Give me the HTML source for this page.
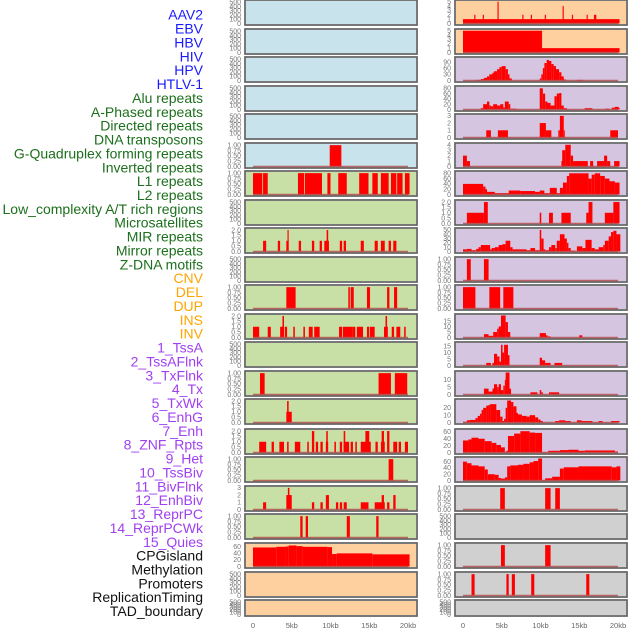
<!DOCTYPE html>
<html><head><meta charset="utf-8"><style>
html,body{margin:0;padding:0;background:#fff;width:630px;height:630px;overflow:hidden}
svg{display:block;font-family:"Liberation Sans",sans-serif}
</style></head><body>
<svg id="chart" width="630" height="630" viewBox="0 0 630 630" xmlns="http://www.w3.org/2000/svg">
<g id="labels"></g>
<g id="panels"></g>
<g id="xaxes"></g>
</svg>
<script>
// ---- track labels ----
const labelNames = ["AAV2","EBV","HBV","HIV","HPV","HTLV-1","Alu repeats","A-Phased repeats","Directed repeats","DNA transposons","G-Quadruplex forming repeats","Inverted repeats","L1 repeats","L2 repeats","Low_complexity A/T rich regions","Microsatellites","MIR repeats","Mirror repeats","Z-DNA motifs","CNV","DEL","DUP","INS","INV","1_TssA","2_TssAFlnk","3_TxFlnk","4_Tx","5_TxWk","6_EnhG","7_Enh","8_ZNF_Rpts","9_Het","10_TssBiv","11_BivFlnk","12_EnhBiv","13_ReprPC","14_ReprPCWk","15_Quies","CPGisland","Methylation","Promoters","ReplicationTiming","TAD_boundary"];
const labelGroups = [6,13,5,15,5];
const xTickLabels = ["0","5kb","10kb","15kb","20kb"];
const xTickValues = [0,5,10,15,20];

// ---- data: discrete bars [startKb, endKb, value] ----
const L6 = [[9.9,11.4,1]];
const L7 = [[0,1.2,1],[1.3,1.9,1],[5.8,6.6,1],[6.7,8.9,1],[9.6,10.0,1],[11.0,12.1,1],[13.7,14.9,1],[15.4,16.1,1],[16.5,17.5,1],[17.8,18.5,1],[18.6,19.3,1],[19.6,20.2,1]];
const L9 = [[1.3,1.7,1],[3.2,3.5,1],[4.3,4.6,1],[4.45,4.6,2],[5.9,6.2,1],[7.6,7.9,1],[8.6,8.9,1],[9.2,9.8,1],[9.5,9.7,2],[11.2,11.5,1],[11.7,12.0,1],[13.9,14.3,1],[15.7,16.1,1],[16.5,17.0,1],[17.5,17.8,1],[18.1,18.5,1]];
const L11 = [[4.3,5.5,1],[12.3,12.5,1],[12.6,13.0,1],[14.7,15.1,1],[17.3,17.6,1],[18.2,18.6,1]];
const L12 = [[0,0.8,1],[1.9,2.3,1],[3.5,4.0,1],[3.8,4.0,2],[4.1,4.4,1],[5.2,5.4,1],[6.5,6.7,1],[7.2,7.7,1],[7.9,8.6,1],[11.1,11.5,1],[11.6,12.8,1],[12.8,13.2,1],[13.4,14.2,1],[14.7,15.0,1],[15.1,15.7,1],[16.9,17.4,1],[17.1,17.3,2],[17.9,18.2,1],[18.5,19.0,1],[19.5,19.7,1]];
const L14 = [[0.9,1.5,1],[16.2,17.8,1],[18.3,19.9,1]];
const L15 = [[4.3,5.0,1],[4.4,4.6,2]];
const L16 = [[0.8,1.7,1],[2.4,2.7,1],[3.4,4.0,1],[4.4,4.6,1],[5.4,6.1,1],[7.0,7.2,1],[7.6,7.9,2],[8.1,8.4,1],[8.7,9.0,1],[9.4,9.7,1],[9.45,9.65,2],[10.5,10.7,1],[11.2,11.5,1],[11.7,12.4,1],[11.7,11.9,2],[12.6,12.9,1],[13.2,13.4,1],[13.9,15.2,1],[14.5,15.0,2],[15.8,16.1,1],[16.5,17.0,1],[16.6,16.9,2],[17.3,17.6,2],[18.1,18.6,1],[18.8,19.1,1],[19.6,20.0,1]];
const L17 = [[17.5,18.1,1]];
const L18 = [[1.3,1.7,1],[4.3,5.0,2],[4.5,4.7,3],[7.6,7.9,1],[8.7,9.0,1],[9.4,9.8,2],[10.7,11.0,1],[11.2,11.5,1],[11.7,12.1,1],[13.9,14.9,1],[15.7,17.0,1],[16.6,16.9,2],[17.3,17.6,1],[18.1,18.4,2]];
const L19 = [[6.1,6.4,1],[6.8,7.1,1],[12.1,12.5,1],[15.9,16.2,1]];
const R1 = [[0,20.2,1],[1.45,1.6,2],[2.55,2.7,2],[4.45,4.6,5],[7.65,7.8,2],[8.75,8.9,2],[10.55,10.7,2],[12.85,13.0,4],[14.05,14.2,2],[15.95,16.1,2],[16.9,17.2,2]];
const R2 = [[0,10.2,5],[10.2,20.2,1]];
const R5 = [[3.0,3.6,1],[4.5,5.8,1],[9.9,10.7,2],[10.7,11.4,1],[12.3,12.5,1],[12.5,13.0,3],[13.0,13.1,1],[19.0,20.0,1]];
const R6 = [[0,0.5,2],[0.5,0.9,1],[12.7,12.8,1],[12.8,13.2,3],[13.2,13.9,4],[13.9,14.2,2],[14.2,16.1,1],[16.4,16.8,1],[17.3,18.2,1],[18.2,18.6,2],[18.6,19.0,1],[19.5,20.2,1]];
const R10 = [[0.5,1.0,1],[2.7,3.3,1]];
const R11 = [[0,1.6,1],[3.4,4.8,1],[5.2,6.5,1]];
const R18 = [[4.8,5.4,1],[10.6,11.3,1],[11.9,12.5,1]];
const R20 = [[4.9,5.4,1],[10.6,11.3,1]];
const R21 = [[1.1,1.5,1],[5.6,5.9,1],[6.3,6.7,1],[8.8,9.2,1],[15.9,16.3,1]];
// ---- data: step profiles [startKb, value] (each step ends at next start) ----
const L20 = [[0,58],[3.0,60],[4.2,61],[4.6,64],[5.6,62],[6.4,60],[9.6,59],[10.2,38],[10.8,40],[15.4,37],[20.2,0]];
const R3 = [[1.7,3],[2.3,7],[2.7,13],[3.1,20],[3.4,30],[3.8,38],[4.0,45],[4.4,55],[4.7,65],[5.0,70],[5.5,55],[5.8,30],[6.0,10],[6.3,0],[9.9,10],[10.1,30],[10.3,60],[10.5,85],[10.8,100],[11.1,95],[11.4,80],[11.7,70],[12.0,55],[12.4,40],[12.7,20],[13.0,5],[13.3,0],[14.7,3],[15.5,0]];
const R4 = [[2.3,5],[2.6,20],[3.1,30],[3.4,15],[3.6,12],[3.9,20],[4.4,15],[4.8,20],[5.2,8],[5.4,30],[5.9,20],[6.1,3],[6.9,0],[9.9,80],[10.3,60],[10.6,30],[10.9,25],[11.3,15],[11.8,50],[12.1,60],[12.4,62],[12.7,15],[13.0,5],[13.4,0],[15.7,5],[16.7,0],[18.3,3],[18.9,0],[19.2,7],[19.6,10],[20.1,5],[20.2,0]];
const R7 = [[0,40],[2.6,30],[2.9,20],[3.1,10],[4.1,5],[5.9,15],[7.4,13],[9.3,10],[9.9,15],[10.5,5],[11.2,25],[12.1,5],[12.5,25],[12.9,45],[13.4,70],[13.7,80],[16.2,60],[16.6,75],[17.0,80],[17.7,70],[18.3,60],[18.9,50],[19.6,45],[20.2,0]];
const R8 = [[0.5,1],[2.7,2],[3.2,0],[9.9,1],[10.1,0],[11.1,1],[11.6,0],[12.7,1],[13.9,0],[15.9,1],[16.2,2],[16.7,0],[18.3,1],[19.4,2],[20.2,0]];
const R9 = [[0,5],[0.5,6],[1.1,3],[1.7,6],[2.0,10],[2.3,15],[3.5,5],[3.7,8],[4.1,10],[4.6,15],[5.1,17],[5.5,25],[6.1,10],[6.4,5],[8.2,3],[8.7,8],[9.3,3],[9.9,50],[10.1,30],[10.4,5],[10.6,3],[11.1,10],[11.4,15],[11.9,8],[12.1,25],[12.5,40],[13.1,30],[13.4,20],[13.6,8],[13.9,2],[14.5,0],[14.7,12],[15.4,8],[15.8,27],[16.6,8],[17.0,5],[17.5,10],[18.1,15],[18.3,25],[18.8,35],[19.1,45],[19.4,48],[19.8,40],[20.3,0]];
const R12 = [[2.7,3],[3.3,1.5],[3.9,5],[4.4,8],[4.6,10],[4.9,20],[5.5,14],[5.8,5],[6.1,0],[9.9,4],[10.7,2],[10.9,1],[11.3,0],[15.0,2],[15.4,0]];
const R13 = [[3.0,2],[3.6,0],[3.8,2],[4.0,9],[4.4,7],[4.7,3],[4.9,16],[5.1,10],[5.3,16],[5.8,8],[6.0,0],[9.9,6],[10.2,4],[10.6,2],[11.3,0],[11.8,2],[12.8,0]];
const R14 = [[2.7,4],[3.3,2],[3.8,4],[4.0,7],[4.4,5],[4.6,7],[4.9,3],[5.2,6],[5.4,10],[5.5,15],[6.0,4],[6.2,0],[8.7,1.5],[9.6,0],[9.9,3],[10.1,1.5],[10.3,0],[11.1,1.5],[12.4,0]];
const R15 = [[0,1],[0.5,3],[0.9,3.5],[1.6,6],[1.9,9],[2.2,12],[2.4,17],[2.6,20],[3.0,23],[3.3,24],[3.5,25],[4.3,17],[4.8,8],[5.1,2],[5.3,5],[5.5,20],[5.7,30],[6.2,28],[6.5,22],[6.9,13],[7.1,11],[7.6,9],[8.2,8],[8.6,10],[9.3,7],[9.7,4],[10.0,2],[10.3,0],[11.9,2],[12.4,3],[13.2,2],[13.9,0],[14.7,3],[15.3,2],[16.7,0],[17.5,2],[18.0,0],[19.1,2],[20.2,0]];
const R16 = [[0,35],[0.7,38],[1.1,43],[2.0,40],[2.8,33],[3.7,28],[4.3,22],[4.9,15],[5.4,2],[5.6,5],[5.8,48],[6.6,55],[7.4,62],[8.6,58],[9.3,57],[10.2,1],[11.0,5],[12.5,7],[13.6,8],[14.9,5],[15.7,6],[19.6,3],[20.0,0]];
const R17 = [[0,60],[0.5,55],[1.1,48],[2.0,45],[2.8,35],[3.2,20],[4.1,18],[4.6,8],[4.9,6],[5.4,10],[5.7,45],[6.1,48],[7.1,50],[7.8,53],[8.6,58],[9.1,62],[9.7,70],[10.2,1],[10.6,7],[11.5,12],[12.5,38],[13.0,42],[14.9,45],[19.2,42],[19.8,45],[20.3,0]];
const EMPTY = [];

// ---- layout ----
const rowTops = [0,29,57,86,114,143,171,200,228,257,285,314,342,371,399,429,457,486,514,543,572,600];
const colX = [245,455];
const panelW = 172;
const kbPx = 7.75;
const BG = {blue:"#c8e3eb",green:"#c8e0a5",orange:"#ffd09f",purple:"#d5c5e1",gray:"#d0d0d0"};
const T500 = ["0","100","200","300","400","500"], T1 = ["0.00","0.25","0.50","0.75","1.00"], T2 = ["0.0","0.5","1.0","1.5","2.0"];
const panels = [
 {c:0,r:0,bg:"blue",d:EMPTY,ym:520,t:T500},{c:0,r:1,bg:"blue",d:EMPTY,ym:520,t:T500},{c:0,r:2,bg:"blue",d:EMPTY,ym:520,t:T500},
 {c:0,r:3,bg:"blue",d:EMPTY,ym:520,t:T500},{c:0,r:4,bg:"blue",d:EMPTY,ym:520,t:T500},{c:0,r:5,bg:"blue",d:L6,ym:1.03,t:T1},
 {c:0,r:6,bg:"green",d:L7,ym:1.03,t:T1},{c:0,r:7,bg:"green",d:EMPTY,ym:520,t:T500},{c:0,r:8,bg:"green",d:L9,ym:2.05,t:T2},
 {c:0,r:9,bg:"green",d:EMPTY,ym:520,t:T500},{c:0,r:10,bg:"green",d:L11,ym:1.03,t:T1},{c:0,r:11,bg:"green",d:L12,ym:2.05,t:T2},
 {c:0,r:12,bg:"green",d:EMPTY,ym:520,t:T500},{c:0,r:13,bg:"green",d:L14,ym:1.03,t:T1},{c:0,r:14,bg:"green",d:L15,ym:2.05,t:T2},
 {c:0,r:15,bg:"green",d:L16,ym:2.05,t:T2},{c:0,r:16,bg:"green",d:L17,ym:1.03,t:T1},{c:0,r:17,bg:"green",d:L18,ym:3.05,t:["0","1","2","3"]},
 {c:0,r:18,bg:"green",d:L19,ym:1.03,t:T1},{c:0,r:19,bg:"orange",d:L20,ym:67,t:["0","20","40","60"],p:1},
 {c:0,r:20,bg:"orange",d:EMPTY,ym:520,t:T500},{c:0,r:21,bg:"orange",d:EMPTY,ym:520,t:T500},
 {c:1,r:0,bg:"orange",d:R1,ym:5.05,t:["0","1","2","3","4","5"]},{c:1,r:1,bg:"orange",d:R2,ym:5.05,t:["0","1","2","3","4","5"]},
 {c:1,r:2,bg:"purple",d:R3,ym:107,t:["0","30","60","90"],p:1},{c:1,r:3,bg:"purple",d:R4,ym:83,t:["0","20","40","60","80"],p:1},
 {c:1,r:4,bg:"purple",d:R5,ym:3.05,t:["0","1","2","3"]},{c:1,r:5,bg:"purple",d:R6,ym:4.05,t:["0","1","2","3","4"]},
 {c:1,r:6,bg:"purple",d:R7,ym:83,t:["0","20","40","60","80"],p:1},{c:1,r:7,bg:"purple",d:R8,ym:2.05,t:T2,p:1},
 {c:1,r:8,bg:"purple",d:R9,ym:51,t:["0","10","20","30","40","50"],p:1},{c:1,r:9,bg:"purple",d:R10,ym:1.03,t:T1},
 {c:1,r:10,bg:"purple",d:R11,ym:1.03,t:T1},{c:1,r:11,bg:"purple",d:R12,ym:20,t:["0","5","10","15"],p:1},
 {c:1,r:12,bg:"purple",d:R13,ym:17,t:["0","5","10","15"],p:1},{c:1,r:13,bg:"purple",d:R14,ym:15,t:["0","5","10"],p:1},
 {c:1,r:14,bg:"purple",d:R15,ym:30,t:["0","10","20"],p:1},{c:1,r:15,bg:"purple",d:R16,ym:64,t:["0","20","40","60"],p:1},
 {c:1,r:16,bg:"purple",d:R17,ym:70,t:["0","20","40","60"],p:1},{c:1,r:17,bg:"gray",d:R18,ym:1.03,t:T1},
 {c:1,r:18,bg:"gray",d:EMPTY,ym:520,t:T500},{c:1,r:19,bg:"gray",d:R20,ym:1.03,t:T1},
 {c:1,r:20,bg:"gray",d:R21,ym:1.03,t:T1},{c:1,r:21,bg:"gray",d:EMPTY,ym:520,t:T500}
];
const NS = "http://www.w3.org/2000/svg";
function mk(tag, attrs, parent){const e=document.createElementNS(NS,tag);for(const k in attrs)e.setAttribute(k,attrs[k]);parent.appendChild(e);return e;}

// labels
const labelColors = ["#1a1aff","#1c6f1c","#ffa500","#a040f0","#111111"];
const gl = document.getElementById("labels");
let gi = 0, cnt = 0;
labelNames.forEach((name,i)=>{
  if(cnt>=labelGroups[gi]){gi++;cnt=0;}
  cnt++;
  const t = mk("text",{x:203,y:(19.7+i*13.87).toFixed(1),"text-anchor":"end","font-size":"14",fill:labelColors[gi]},gl);
  
  
  t.textContent = name;
});

// panels
const gp = document.getElementById("panels");
panels.forEach(P=>{
  const x0 = colX[P.c], top = rowTops[P.r], h = (P.r===21)?16:25;
  const g = mk("g",{},gp);
  
  
  mk("rect",{x:x0,y:top,width:panelW,height:h,fill:BG[P.bg],stroke:"#9a9a9a","stroke-width":"2"},g);
  const xs = kb => x0 + 8 + kb*kbPx;
  const ys = v => top + h - 1.5 - v/P.ym*(h-3);
  // ticks
  const n = P.t.length;
  P.t.forEach((lab)=>{
    const v = parseFloat(lab);
    const tt = mk("text",{x:x0-4,y:(ys(v)+2.3).toFixed(1),"text-anchor":"end","font-size":"7",fill:"#777"},g);
    
    
    tt.textContent = lab;
  });
  // bars
  let bars = [];
  if(P.p){ for(let i=0;i<P.d.length-1;i++){ if(P.d[i][1]>0) bars.push([P.d[i][0],P.d[i+1][0],P.d[i][1]]); } }
  else bars = P.d;
  bars.forEach(b=>{
    const v = Math.min(b[2],P.ym);
    const r = mk("rect",{x:xs(b[0]).toFixed(2),y:ys(v).toFixed(2),width:Math.max(1,(b[1]-b[0])*kbPx).toFixed(2),height:(ys(0)-ys(v)).toFixed(2),fill:"#ff0000"},g);
    
    
  });
  if(P.d.length){
    const bl = mk("line",{x1:xs(0),x2:xs(20),y1:ys(0),y2:ys(0),stroke:"#b04848","stroke-width":"1.5","stroke-opacity":"0.8"},g);
    
    
  }
  mk("rect",{x:x0,y:top,width:panelW,height:h,fill:"none",stroke:"#555","stroke-width":"1"},g);
});

// x axes
const gx = document.getElementById("xaxes");
colX.forEach(x0=>{
  xTickValues.forEach((v,i)=>{
    const t = mk("text",{x:(x0+8+v*kbPx).toFixed(1),y:628,"text-anchor":"middle","font-size":"7.5",fill:"#666"},gx);
    
    
    t.textContent = xTickLabels[i];
  });
});
</script>
</body></html>
